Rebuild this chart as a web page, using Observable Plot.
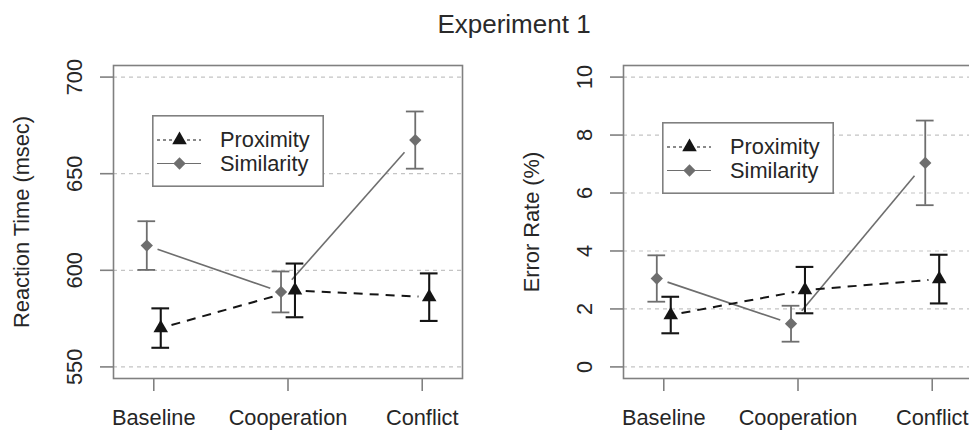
<!DOCTYPE html>
<html><head><meta charset="utf-8">
<script src="https://cdn.jsdelivr.net/npm/d3@7"></script>
<script src="https://cdn.jsdelivr.net/npm/@observablehq/plot@0.6"></script>
<style>
html,body{margin:0;padding:0;background:#fff;overflow:hidden}
#wrap{position:relative;width:969px;height:430px;overflow:hidden;font-family:"Liberation Sans",Arial,sans-serif;color:#2a2a2a;background:#fff}
#title{position:absolute;left:0;width:1028px;top:11px;text-align:center;font-size:26px;line-height:26px}
.panel{position:absolute;top:0}
.legend{position:absolute}
</style>
</head><body>
<div id="wrap">
  <div id="title">Experiment 1</div>
</div>
<script>
const categories = ["Baseline", "Cooperation", "Conflict"];
const seriesNames = ["Proximity", "Similarity"];
// Reaction time (msec): means and error-bar half widths
const rtProximity = [570.1, 589.6, 586.1];
const rtProximityErr = [10.2, 13.9, 12.3];
const rtSimilarity = [612.8, 588.8, 667.4];
const rtSimilarityErr = [12.6, 10.6, 14.8];
// Error rate (%)
const erProximity = [1.79, 2.65, 3.03];
const erProximityErr = [0.63, 0.80, 0.84];
const erSimilarity = [3.05, 1.49, 7.04];
const erSimilarityErr = [0.80, 0.62, 1.46];
// tick labels
const rtTicks = [550, 600, 650, 700];
const erTicks = [0, 2, 4, 6, 8, 10];

const FONT = '"Liberation Sans", Arial, sans-serif';
const PROX = "#151515", SIM = "#6e6e6e", FRAME = "#808080", TEXT = "#262626";
const OFF = 0.052, CAP = 0.066, GAP = 0.08;
const R_SIM = 4.9, R_PROX = 5.4;

function rowsOf(means, errs, off) {
  return means.map((m, i) => ({cat: categories[i], x: i + 1 + off, y: m, lo: m - errs[i], hi: m + errs[i]}));
}
function segs(rows) {
  const out = [];
  for (let i = 0; i < rows.length - 1; i++) {
    const a = rows[i], b = rows[i + 1];
    out.push({
      x1: a.x + (b.x - a.x) * GAP, y1: a.y + (b.y - a.y) * GAP,
      x2: b.x - (b.x - a.x) * GAP, y2: b.y - (b.y - a.y) * GAP
    });
  }
  return out;
}

function panel({width, marginLeft, marginRight, yDomain, yTicks, prox, proxErr, sim, simErr, ylabel}) {
  const P = rowsOf(prox, proxErr, OFF);
  const S = rowsOf(sim, simErr, -OFF);
  return Plot.plot({
    width, height: 430,
    marginTop: 65, marginBottom: 52, marginLeft, marginRight,
    style: {fontSize: "21.8px", fontFamily: FONT, color: TEXT, background: "transparent", overflow: "visible"},
    x: {domain: [0.7, 3.3]},
    y: {domain: yDomain},
    marks: [
      Plot.ruleY(yTicks, {stroke: "#c4c4c4", strokeDasharray: "4,4", strokeWidth: 1.2}),
      Plot.frame({stroke: FRAME, strokeWidth: 1.6}),
      Plot.axisX({ticks: [1, 2, 3], tickFormat: d => categories[d - 1], tickSize: 13, tickPadding: 18, stroke: FRAME, strokeWidth: 1.6, fill: TEXT, label: null}),
      Plot.axisY({ticks: yTicks, tickSize: 13, tickFormat: () => "", stroke: FRAME, strokeWidth: 1.6, label: null}),
      Plot.text(yTicks, {y: d => d, text: d => String(d), frameAnchor: "left", textAnchor: "middle", lineAnchor: "middle", rotate: -90, dx: -38, fill: TEXT}),
      Plot.text([ylabel], {frameAnchor: "left", textAnchor: "middle", lineAnchor: "middle", rotate: -90, dx: -91, fill: TEXT}),
      Plot.link(segs(S), {x1: "x1", y1: "y1", x2: "x2", y2: "y2", stroke: SIM, strokeWidth: 1.6}),
      Plot.link(segs(P), {x1: "x1", y1: "y1", x2: "x2", y2: "y2", stroke: PROX, strokeWidth: 2, strokeDasharray: "9,7"}),
      // error bars
      Plot.ruleX(S, {x: "x", y1: "lo", y2: "hi", stroke: SIM, strokeWidth: 1.8}),
      Plot.ruleY(S, {y: "hi", x1: d => d.x - CAP, x2: d => d.x + CAP, stroke: SIM, strokeWidth: 1.8}),
      Plot.ruleY(S, {y: "lo", x1: d => d.x - CAP, x2: d => d.x + CAP, stroke: SIM, strokeWidth: 1.8}),
      Plot.ruleX(P, {x: "x", y1: "lo", y2: "hi", stroke: PROX, strokeWidth: 2.1}),
      Plot.ruleY(P, {y: "hi", x1: d => d.x - CAP, x2: d => d.x + CAP, stroke: PROX, strokeWidth: 2.1}),
      Plot.ruleY(P, {y: "lo", x1: d => d.x - CAP, x2: d => d.x + CAP, stroke: PROX, strokeWidth: 2.1}),
      // markers
      Plot.dot(S, {x: "x", y: "y", symbol: "square", rotate: 45, r: R_SIM, fill: SIM, stroke: "none"}),
      Plot.dot(P, {x: "x", y: "y", symbol: "triangle", r: R_PROX, fill: PROX, stroke: "none"})
    ]
  });
}

function legendSVG() {
  const tri = d3.symbol(d3.symbolTriangle, R_PROX * R_PROX * Math.PI)();
  const sq = d3.symbol(d3.symbolSquare, R_SIM * R_SIM * Math.PI)();
  return `<svg width="172" height="72" xmlns="http://www.w3.org/2000/svg" style="display:block;font-family:${FONT.replace(/"/g, "'")}">
    <rect x="0.8" y="0.8" width="170.4" height="70.4" fill="#fff" stroke="${FRAME}" stroke-width="1.6"/>
    <line x1="5" x2="49" y1="25" y2="25" stroke="${PROX}" stroke-width="1.2" stroke-dasharray="3,3"/>
    <path d="${tri}" transform="translate(27.5,25)" fill="${PROX}"/>
    <text x="68" y="32" font-size="21.8" fill="${TEXT}">${seriesNames[0]}</text>
    <line x1="5" x2="49" y1="48.5" y2="48.5" stroke="${SIM}" stroke-width="1.2"/>
    <path d="${sq}" transform="translate(27.5,48.5) rotate(45)" fill="${SIM}"/>
    <text x="68" y="55.5" font-size="21.8" fill="${TEXT}">${seriesNames[1]}</text>
  </svg>`;
}

const wrap = document.getElementById("wrap");

const left = panel({width: 480, marginLeft: 113, marginRight: 18, yDomain: [544, 706], yTicks: rtTicks,
  prox: rtProximity, proxErr: rtProximityErr, sim: rtSimilarity, simErr: rtSimilarityErr, ylabel: "Reaction Time (msec)"});
left.classList.add("panel"); left.style.left = "0px";
wrap.appendChild(left);

const right = panel({width: 500, marginLeft: 143, marginRight: 8, yDomain: [-0.4, 10.4], yTicks: erTicks,
  prox: erProximity, proxErr: erProximityErr, sim: erSimilarity, simErr: erSimilarityErr, ylabel: "Error Rate (%)"});
right.classList.add("panel"); right.style.left = "480px";
wrap.appendChild(right);

const lg1 = document.createElement("div");
lg1.className = "legend"; lg1.style.left = "152px"; lg1.style.top = "115px"; lg1.innerHTML = legendSVG();
wrap.appendChild(lg1);
const lg2 = document.createElement("div");
lg2.className = "legend"; lg2.style.left = "662px"; lg2.style.top = "122px"; lg2.innerHTML = legendSVG();
wrap.appendChild(lg2);
</script>
</body></html>
